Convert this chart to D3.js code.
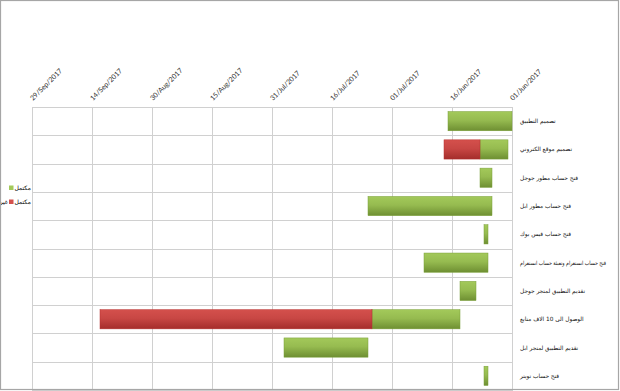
<!DOCTYPE html>
<html>
<head>
<meta charset="utf-8">
<script src="https://cdn.jsdelivr.net/npm/d3@7"></script>
<style>
	body { margin: 0; background: #fff; }
	svg { display: block; }
</style>
</head>
<body>
<div id="chart"><svg></svg></div>
<script>
// tasks, top to bottom
const tasks = [
	'تصميم التطبيق',
	'تصميم موقع الكتروني',
	'فتح حساب مطور جوجل',
	'فتح حساب مطور ابل',
	'فتح حساب فيس بوك',
	'فتح حساب انستغرام وتعبئة حساب انستغرام',
	'تقديم التطبيق لمتجر جوجل',
	'الوصول الى 10 الاف متابع',
	'تقديم التطبيق لمتجر ابل',
	'فتح حساب تويتر'
];
const startDates = ['2017-06-01', '2017-06-02', '2017-06-06', '2017-06-06', '2017-06-07',
	'2017-06-07', '2017-06-10', '2017-06-14', '2017-07-07', '2017-06-07'];
// end of the completed part
const doneDates = ['2017-06-17', '2017-06-09', '2017-06-09', '2017-07-07', '2017-06-08',
	'2017-06-23', '2017-06-14', '2017-07-06', '2017-07-28', '2017-06-08'];
const endDates = ['2017-06-17', '2017-06-18', '2017-06-09', '2017-07-07', '2017-06-08',
	'2017-06-23', '2017-06-14', '2017-09-12', '2017-07-28', '2017-06-08'];

const seriesNames = ['مكتمل', 'غير مكتمل'];
const seriesColors = [['#a3c95a', '#6e8f32'], ['#d4504c', '#a42d2b']];

const axisStart = '2017-06-01';
const axisEnd = '2017-09-29';
const tickStepDays = 15;

const width = 620;
const height = 391;
const parse = d3.utcParse('%Y-%m-%d');
const fmt = d3.utcFormat('%d/%b/%Y');
const arabicFont = '"DejaVu Sans", sans-serif';

const $svg = d3.select('#chart svg').attr('width', width).attr('height', height);

// gradients for the bars
const $defs = $svg.append('defs');
seriesColors.forEach((c, i) => {
	const g = $defs.append('linearGradient')
		.attr('id', `grad${i}`)
		.attr('x1', 0).attr('y1', 0).attr('x2', 0).attr('y2', 1);
	g.append('stop').attr('offset', '0%').attr('stop-color', c[0]);
	g.append('stop').attr('offset', '45%').attr('stop-color', d3.interpolateRgb(c[0], c[1])(0.25));
	g.append('stop').attr('offset', '100%').attr('stop-color', c[1]);
});

const plot = { left: 32, right: 512, top: 107, bottom: 390 };

// reversed time axis: earliest date on the right edge
const x = d3.scaleUtc()
	.domain([parse(axisStart), parse(axisEnd)])
	.range([plot.right, plot.left]);

const y = d3.scaleBand()
	.domain(tasks)
	.range([plot.top, plot.bottom])
	.paddingInner(0.32)
	.paddingOuter(0.16);

const ticks = d3.utcDay.range(parse(axisStart), d3.utcDay.offset(parse(axisEnd), 1), tickStepDays);

// grid
const $grid = $svg.append('g').attr('stroke', '#d0d0d0').attr('stroke-width', 1);
$grid.selectAll('line.v')
	.data(ticks)
	.enter()
	.append('line')
	.attr('class', 'v')
	.attr('x1', d => Math.round(x(d)) + 0.5)
	.attr('x2', d => Math.round(x(d)) + 0.5)
	.attr('y1', plot.top)
	.attr('y2', plot.bottom);

$grid.selectAll('line.h')
	.data(d3.range(tasks.length + 1))
	.enter()
	.append('line')
	.attr('class', 'h')
	.attr('x1', plot.left)
	.attr('x2', plot.right + 1)
	.attr('y1', i => Math.round(plot.top + i * y.step()) + 0.5)
	.attr('y2', i => Math.round(plot.top + i * y.step()) + 0.5);

// tick labels, rotated
$svg.append('g')
	.selectAll('text')
	.data(ticks)
	.enter()
	.append('text')
	.attr('transform', d => `translate(${x(d) + 1},${plot.top - 6}) rotate(-45)`)
	.attr('font-family', 'Lato, "Open Sans", sans-serif')
	.attr('font-size', 7)
	.attr('fill', '#333')
	.text(fmt);

// bars: completed (green) then remaining (red)
const rows = tasks.map((t, i) => ({
	task: t,
	start: parse(startDates[i]),
	done: parse(doneDates[i]),
	end: parse(endDates[i])
}));

const segs = [];
rows.forEach(r => {
	segs.push({ task: r.task, a: r.start, b: r.done, s: 0 });
	if (+r.end > +r.done) segs.push({ task: r.task, a: r.done, b: r.end, s: 1 });
});

$svg.append('g')
	.selectAll('rect')
	.data(segs)
	.enter()
	.append('rect')
	.attr('x', d => x(d.b))
	.attr('y', d => y(d.task))
	.attr('width', d => x(d.a) - x(d.b))
	.attr('height', y.bandwidth())
	.attr('fill', d => `url(#grad${d.s})`)
	.attr('stroke', d => d3.color(seriesColors[d.s][1]).brighter(0.3))
	.attr('stroke-width', 0.5);

// category labels: rtl text, left edge pinned at the plot side
const maxLabel = 86;
$svg.append('g')
	.selectAll('text')
	.data(tasks)
	.enter()
	.append('text')
	.attr('direction', 'rtl')
	.attr('text-anchor', 'end')
	.attr('x', plot.right + 8)
	.attr('y', d => y(d) + y.bandwidth() / 2)
	.attr('dy', '0.35em')
	.attr('font-family', arabicFont)
	.attr('font-size', 5.8)
	.attr('fill', '#111')
	.text(d => d)
	.each(function () {
		const w = this.getComputedTextLength();
		if (w > maxLabel) d3.select(this).attr('textLength', maxLabel).attr('lengthAdjust', 'spacingAndGlyphs');
	});

// legend (symbol sits before the last word, as in the original)
const $leg = $svg.append('g')
	.attr('font-family', arabicFont)
	.attr('font-size', 6)
	.attr('direction', 'rtl');
seriesNames.forEach((name, i) => {
	const cy = 188 + i * 14;
	const words = name.split(' ');
	$leg.append('rect')
		.attr('x', 9).attr('y', cy - 2.5)
		.attr('width', 4.5).attr('height', 4.5)
		.attr('fill', seriesColors[i][0]);
	$leg.append('text')
		.attr('x', 14.5).attr('y', cy).attr('dy', '0.35em')
		.attr('text-anchor', 'end')
		.text(words[words.length - 1]);
	if (words.length > 1) {
		$leg.append('text')
			.attr('x', 8).attr('y', cy).attr('dy', '0.35em')
			.attr('text-anchor', 'start')
			.text(words.slice(0, -1).join(' '));
	}
});

// outer chart border
$svg.append('rect')
	.attr('x', 0.5).attr('y', 0.5)
	.attr('width', width - 2).attr('height', height - 2)
	.attr('fill', 'none')
	.attr('stroke', '#a6a6a6')
	.attr('stroke-width', 1.2);
</script>
</body>
</html>
